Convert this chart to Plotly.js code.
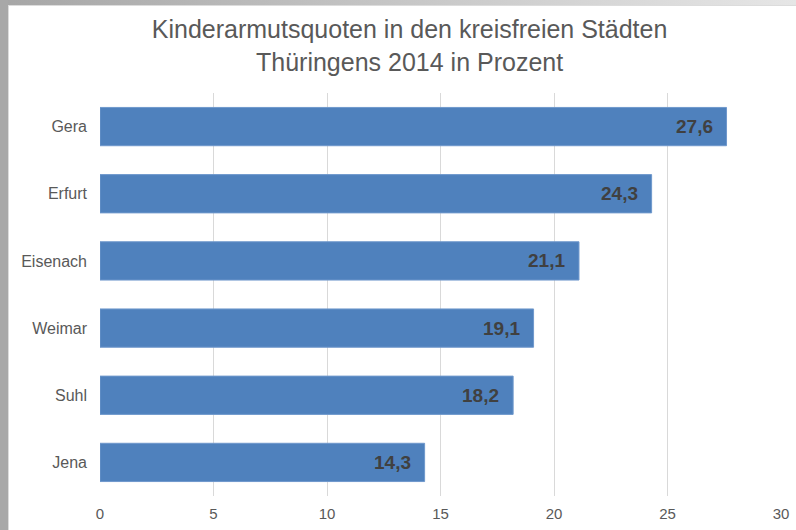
<!DOCTYPE html>
<html>
<head>
<meta charset="utf-8">
<script src="https://cdn.plot.ly/plotly-3.0.1.min.js"></script>
<style>
  html, body { margin: 0; padding: 0; width: 796px; height: 530px; overflow: hidden; background: #ffffff; }
  #topbar { position: absolute; left: 0; top: 0; width: 796px; height: 5px; background: linear-gradient(to right, #a6a6a6 0%, #c6c6c6 50%, #e6e6e6 100%); }
  #leftbar { position: absolute; left: 0; top: 0; width: 8px; height: 530px; background: #a8a8a8; }
  #frame { position: absolute; left: 8px; top: 5px; width: 788px; height: 525px; background: #ffffff; border-left: 1px solid #dcdcdc; border-top: 1px solid #dcdcdc; box-sizing: border-box; }
  #chart { position: absolute; left: 0; top: 0; width: 787px; height: 524px; }
</style>
</head>
<body>
<div id="topbar"></div>
<div id="leftbar"></div>
<div id="frame"><div id="chart"></div></div>
<script>
const cities = ["Jena", "Suhl", "Weimar", "Eisenach", "Erfurt", "Gera"];
const quotes = [14.3, 18.2, 19.1, 21.1, 24.3, 27.6];
const xTicks = [0, 5, 10, 15, 20, 25, 30];
const chartTitle = "Kinderarmutsquoten in den kreisfreien Städten<br>Thüringens 2014 in Prozent";

const fmt = v => v.toFixed(1).replace('.', ',');

const trace = {
  type: 'bar',
  orientation: 'h',
  y: cities,
  x: quotes,
  width: 0.57,
  marker: { color: '#4f81bd', line: { color: '#6f98cc', width: 1 } },
  hoverinfo: 'skip'
};

const annotations = cities.map((c, i) => ({
  x: quotes[i], y: c, xref: 'x', yref: 'y',
  text: '<b>' + fmt(quotes[i]) + '</b>', showarrow: false,
  xanchor: 'right', yanchor: 'middle', xshift: -12,
  font: { family: 'Liberation Sans, Arial, sans-serif', size: 19, color: '#404040' }
}));

const layout = {
  width: 787, height: 524,
  margin: { l: 91, r: 15, t: 87, b: 34, pad: 0 },
  paper_bgcolor: '#ffffff', plot_bgcolor: '#ffffff',
  showlegend: false,
  bargap: 0.43,
  font: { family: 'Liberation Sans, Arial, sans-serif', color: '#595959' },
  title: {
    text: chartTitle,
    font: { size: 25, color: '#595959', family: 'Liberation Sans, Arial, sans-serif' },
    xref: 'container', x: 0.509, xanchor: 'center',
    yref: 'container', y: 0.938, yanchor: 'top'
  },
  xaxis: {
    range: [0, 30],
    tickvals: xTicks,
    ticktext: xTicks.map(String),
    showgrid: true, gridcolor: '#d9d9d9', gridwidth: 1,
    zeroline: false, showline: false,
    ticks: '', ticklabelstandoff: 7,
    tickfont: { size: 15, color: '#595959' },
    fixedrange: true
  },
  yaxis: {
    type: 'category',
    categoryorder: 'array', categoryarray: cities,
    range: [-0.5, 5.5],
    showgrid: false, zeroline: false, showline: false,
    ticks: '', ticklabelstandoff: 12,
    tickfont: { size: 16, color: '#595959' },
    fixedrange: true
  },
  annotations: annotations
};

Plotly.newPlot('chart', [trace], layout, { displayModeBar: false, staticPlot: true });
</script>
</body>
</html>
